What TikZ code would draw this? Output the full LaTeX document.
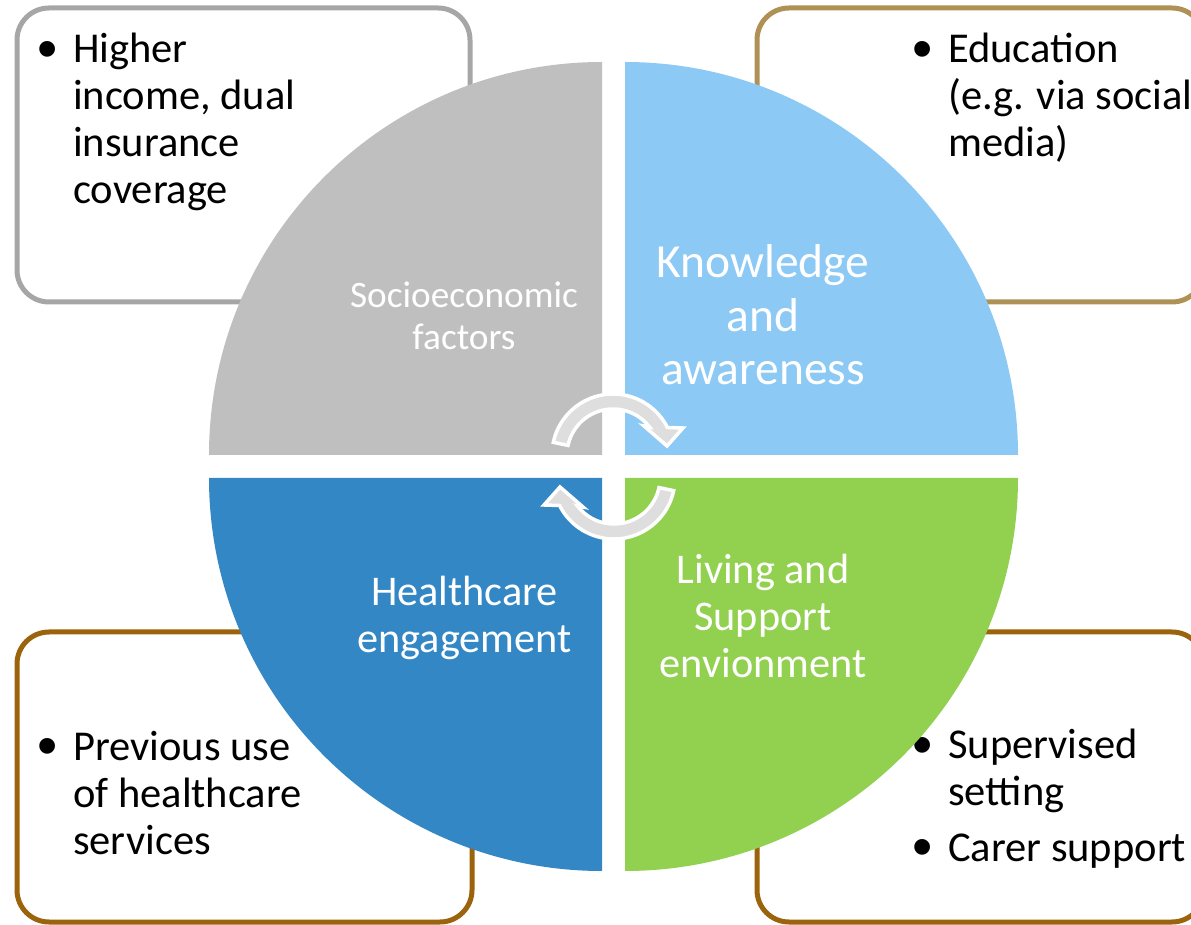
\documentclass[tikz,border=0pt]{standalone}
\usepackage{fontspec}
\setmainfont{Carlito}
\newfontfamily\bulletfont{Liberation Sans}
\definecolor{qgray}{RGB}{191,191,191}
\definecolor{qlblue}{RGB}{141,201,245}
\definecolor{qdblue}{RGB}{52,135,197}
\definecolor{qgreen}{RGB}{146,208,80}
\definecolor{bgray}{RGB}{166,166,166}
\definecolor{btan}{RGB}{176,145,85}
\definecolor{bbrown}{RGB}{155,100,12}
\definecolor{arrfill}{RGB}{222,222,222}
\newcommand{\blt}{\llap{\makebox[0pt]{\raisebox{-5.5pt}{\scalebox{1.36}{\bulletfont •}}}\hspace{25.5pt}}}
\begin{document}
\begin{tikzpicture}[x=1pt,y=1pt,
  infobox/.style={line width=5pt, rounded corners=32pt, fill=white},
  bullettext/.style={anchor=base west, inner sep=0pt, text=black, font=\fontsize{42.5}{47}\selectfont},
  qlabel/.style={anchor=base, inner sep=0pt, text=white},
  cycarrow/.style={fill=arrfill, draw=white, line width=3.5pt, line join=miter}
]
\useasboundingbox (0,0) rectangle (1191,924);
% info boxes
\draw[infobox, draw=bgray] (17,622) rectangle (470,916);
\draw[infobox, draw=btan] (757,622) rectangle (1204,916);
\draw[infobox, draw=bbrown] (17,2) rectangle (472,292);
\draw[infobox, draw=bbrown] (757,2) rectangle (1204,292);
% box texts
\node[bullettext] (tl) at (73,861) {\begin{tabular}[t]{@{}l@{}}\blt Higher\\income, dual\\insurance\\coverage\end{tabular}};
\node[bullettext] (tr) at (948,861) {\begin{tabular}[t]{@{}l@{}}\blt Education\\(e.g. via social\\media)\end{tabular}};
\node[bullettext] (bl) at (73,164) {\begin{tabular}[t]{@{}l@{}}\blt Previous use\\of healthcare\\services\end{tabular}};
\node[bullettext] (br) at (948,165) {\begin{tabular}[t]{@{}l@{}}\blt Supervised\\setting\\[8pt]\blt Carer support\end{tabular}};
% quadrants
\fill[qgray] (602,469) -- (602,862) arc[start angle=90, end angle=180, radius=393] -- cycle;
\fill[qlblue] (625,469) -- (1018,469) arc[start angle=0, end angle=90, radius=393] -- cycle;
\fill[qdblue] (602,446) -- (209,446) arc[start angle=180, end angle=270, radius=393] -- cycle;
\fill[qgreen] (625,446) -- (625,53) arc[start angle=270, end angle=360, radius=393] -- cycle;
% quadrant labels
\node[qlabel, font=\fontsize{37.3}{42}\selectfont] (socio) at (464,616) {\begin{tabular}[t]{@{}c@{}}Socioeconomic\\factors\end{tabular}};
\node[qlabel, font=\fontsize{47.5}{53.5}\selectfont] (know) at (763,646) {\begin{tabular}[t]{@{}c@{}}Knowledge\\and\\awareness\end{tabular}};
\node[qlabel, font=\fontsize{42.3}{46.5}\selectfont] (health) at (464.5,318) {\begin{tabular}[t]{@{}c@{}}Healthcare\\engagement\end{tabular}};
\node[qlabel, font=\fontsize{42.3}{47}\selectfont] (living) at (763,340) {\begin{tabular}[t]{@{}c@{}}Living and\\Support\\envionment\end{tabular}};
% cycle arrows
\begin{scope}[shift={(613,469)}]
\draw[cycarrow] (168:61) arc[start angle=168, end angle=26.8, radius=61] -- (70,27) -- (54,9) -- (31,29) -- (37.5:46) arc[start angle=37.5, end angle=168, radius=46] -- cycle;
\end{scope}
\begin{scope}[shift={(614,446)}, rotate=180]
\draw[cycarrow] (168:61) arc[start angle=168, end angle=26.8, radius=61] -- (70,27) -- (54,9) -- (31,29) -- (37.5:46) arc[start angle=37.5, end angle=168, radius=46] -- cycle;
\end{scope}
\end{tikzpicture}
\end{document}
